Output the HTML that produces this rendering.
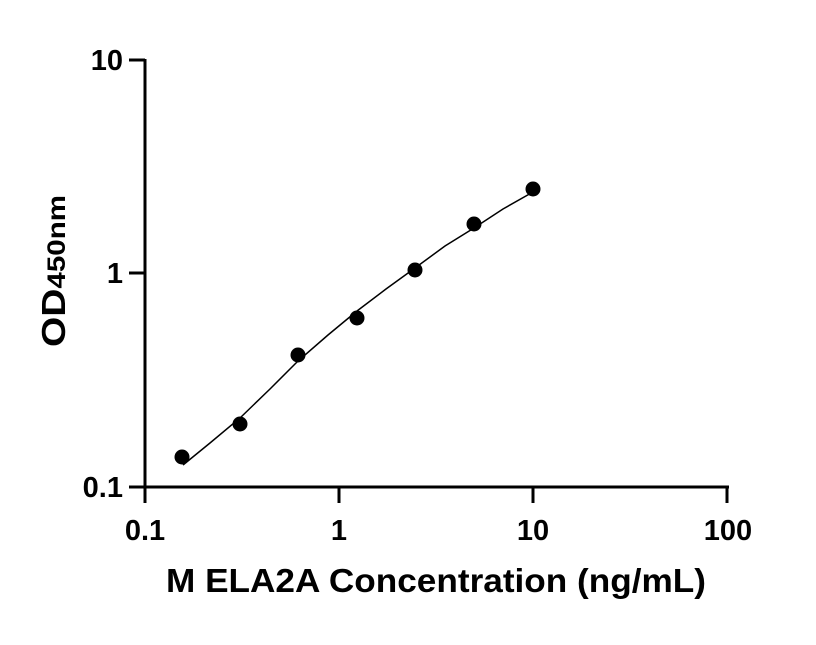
<!DOCTYPE html>
<html><head><style>body{margin:0;background:#fff}</style></head><body>
<svg width="816" height="640" xmlns="http://www.w3.org/2000/svg" font-family="Liberation Sans, sans-serif" font-weight="bold">
<g stroke="#000" stroke-width="3" fill="none">
<line x1="145" y1="59" x2="145" y2="488"/>
<line x1="143.5" y1="487" x2="729" y2="487"/>
<line x1="129" y1="60" x2="145" y2="60"/>
<line x1="129" y1="273" x2="145" y2="273"/>
<line x1="129" y1="487" x2="145" y2="487"/>
<line x1="145" y1="487" x2="145" y2="503"/>
<line x1="339" y1="487" x2="339" y2="503"/>
<line x1="533" y1="487" x2="533" y2="503"/>
<line x1="727" y1="487" x2="727" y2="503"/>
</g>
<polyline fill="none" stroke="#000" stroke-width="1.5" points="183,465 210,443 240,418 270,389 298,361 328,335 357,311 386,289 415,268 445,246 474,228 503,209 533,192"/>
<g fill="#000">
<circle cx="182" cy="457" r="7.5"/><circle cx="240" cy="424" r="7.5"/><circle cx="298" cy="355" r="7.5"/><circle cx="357" cy="318" r="7.5"/><circle cx="415" cy="270" r="7.5"/><circle cx="474" cy="224" r="7.5"/><circle cx="533" cy="189" r="7.5"/>
</g>
<g font-size="29" text-anchor="end">
<text x="123" y="70">10</text><text x="123" y="283">1</text><text x="123" y="497">0.1</text>
</g>
<g font-size="29" text-anchor="middle">
<text x="145" y="540">0.1</text><text x="339" y="540">1</text><text x="533" y="540">10</text><text x="728" y="540">100</text>
</g>
<text x="166" y="592" font-size="33" textLength="540" lengthAdjust="spacingAndGlyphs">M ELA2A Concentration (ng/mL)</text>
<text transform="translate(65,347) rotate(-90)" font-size="33" textLength="152" lengthAdjust="spacingAndGlyphs">OD<tspan font-size="25">450nm</tspan></text>
</svg>
</body></html>
